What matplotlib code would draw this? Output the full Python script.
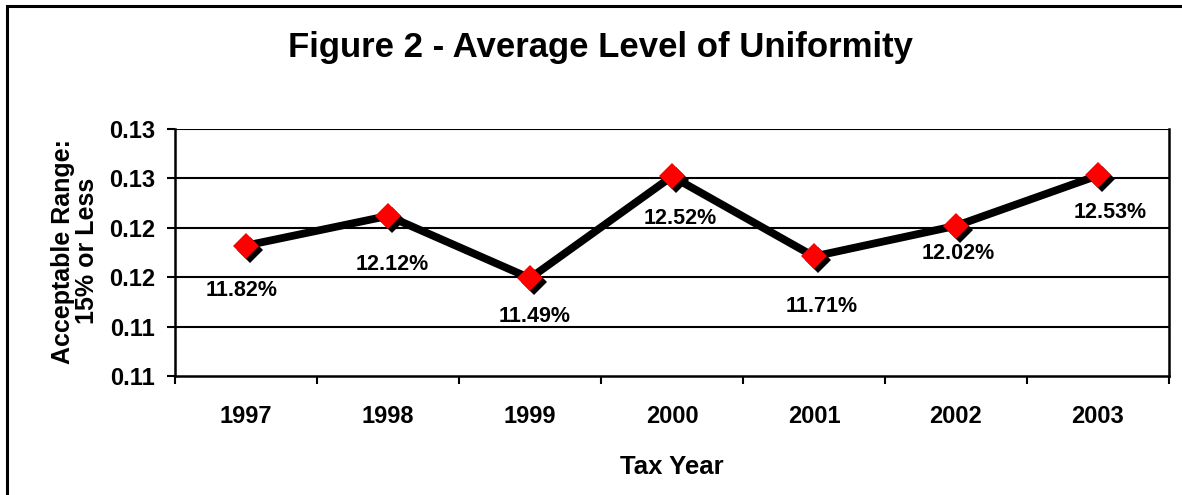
import numpy as np
import matplotlib
matplotlib.use('Agg')
import matplotlib.pyplot as plt
from matplotlib.patches import Rectangle
from matplotlib.transforms import offset_copy

plt.rcParams['font.family'] = ['Liberation Sans', 'DejaVu Sans']
plt.rcParams['font.weight'] = 'bold'

# data
years = ['1997', '1998', '1999', '2000', '2001', '2002', '2003']
uniformity = [0.1182, 0.1212, 0.1149, 0.1252, 0.1171, 0.1202, 0.1253]
y_ticks = [0.105, 0.110, 0.115, 0.120, 0.125, 0.130]
y_tick_labels = ['0.11', '0.11', '0.12', '0.12', '0.13', '0.13']

# label placement below each point (pixels)
label_offsets = [(-4, -45), (4, -49), (5, -38), (8, -42), (8, -50), (2, -28), (12, -37)]

fig = plt.figure(figsize=(11.82, 4.95), dpi=100)
ax = fig.add_axes([175 / 1182, 1 - 376 / 495, 994 / 1182, 247 / 495])

x = np.arange(len(years))

ax.plot(x, uniformity, color='k', linewidth=5.6, solid_joinstyle='miter', zorder=3)
shadow = offset_copy(ax.transData, fig=fig, x=4, y=-4, units='dots')
ax.plot(x, uniformity, linestyle='none', marker='D', markersize=13,
        color='k', markeredgewidth=0, transform=shadow, zorder=4)
ax.plot(x, uniformity, linestyle='none', marker='D', markersize=13,
        color='#FF0000', markeredgewidth=0, zorder=5)

for xi, val, (dx, dy) in zip(x, uniformity, label_offsets):
    ax.annotate('%.2f%%' % (val * 100), (xi, val), xytext=(dx, dy),
                textcoords='offset pixels', ha='center', va='center',
                fontsize=15.5, fontweight='bold')

ax.set_xlim(-0.5, len(years) - 0.5)
ax.set_ylim(0.105, 0.130)
ax.set_yticks(y_ticks)
ax.set_yticklabels(y_tick_labels)
ax.set_xticks(np.arange(len(years) + 1) - 0.5)
ax.set_xticks(x, minor=True)
ax.set_xticklabels([])
ax.set_xticklabels(years, minor=True)
ax.tick_params(axis='x', which='major', direction='out', length=6, width=1.5, color='k')
ax.tick_params(axis='x', which='minor', length=0, pad=21, labelsize=17)
ax.tick_params(axis='y', direction='out', length=6, width=1.5, pad=8.5, labelsize=17)

for yv in y_ticks[1:]:
    ax.axhline(yv, color='k', linewidth=1.5, zorder=1)

for side in ['left', 'bottom', 'right']:
    ax.spines[side].set_linewidth(1.8)
    ax.spines[side].set_color('k')
ax.spines['top'].set_visible(False)

ax.set_xlabel('Tax Year', fontsize=18.5, fontweight='bold', labelpad=19)
fig.text(75 / 1182, 1 - 251 / 495, 'Acceptable Range:\n15% or Less',
         rotation=90, ha='center', va='center', fontsize=18,
         fontweight='bold', multialignment='center', linespacing=1.05)

fig.text(600 / 1182, 1 - 47 / 495, 'Figure 2 - Average Level of Uniformity',
         ha='center', va='center', fontsize=25, fontweight='bold')

# outer chart border
fig.patches.append(Rectangle((6.5 / 1182, -0.1), 1.2, 1 - 6.5 / 495 + 0.1,
                             transform=fig.transFigure, fill=False,
                             edgecolor='k', linewidth=2.2))

fig.savefig('out.png', dpi=100)
